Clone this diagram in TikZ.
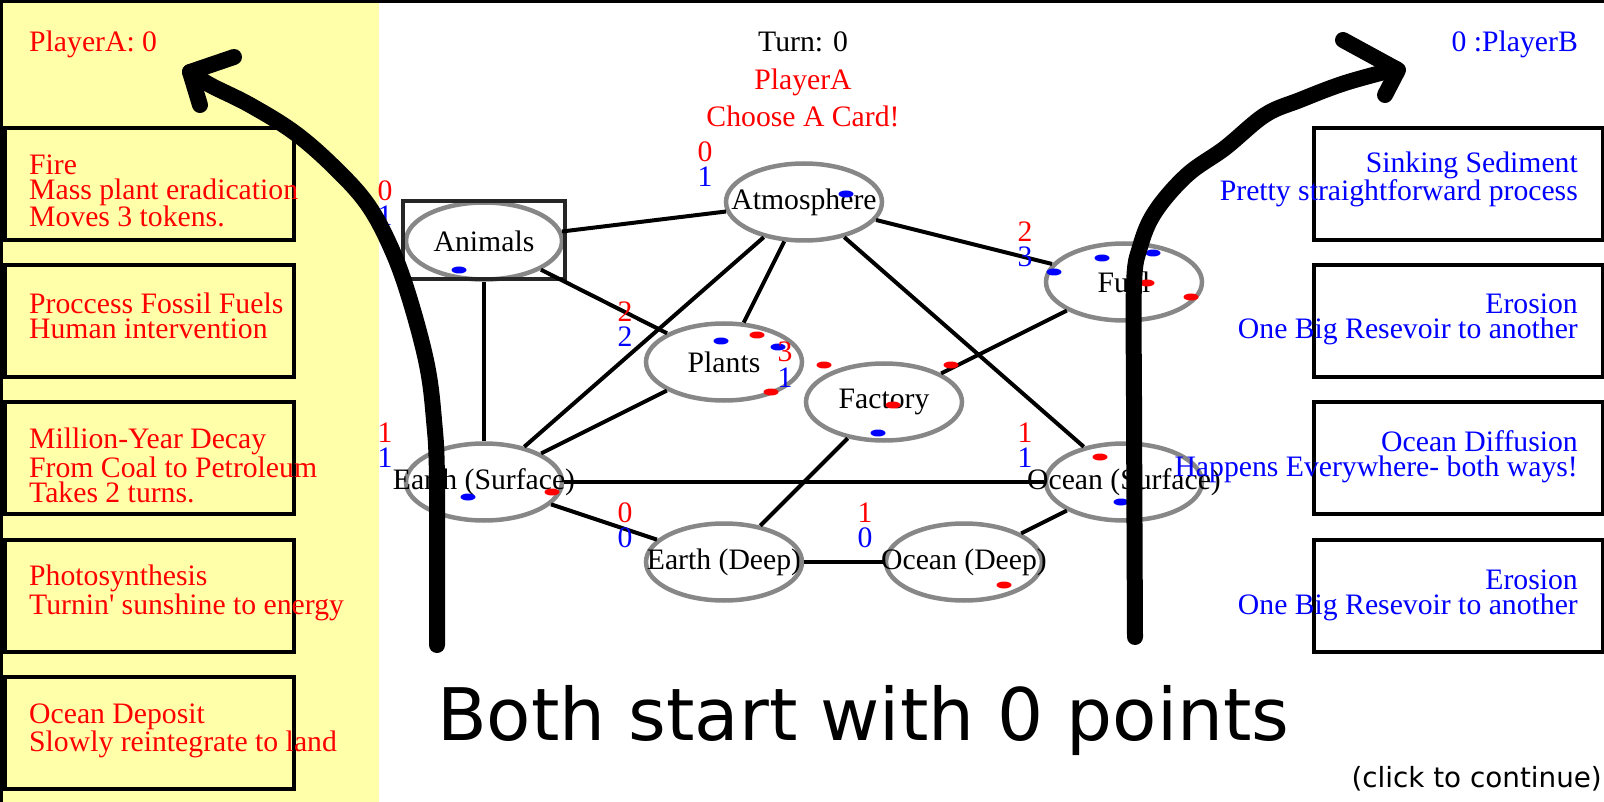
\documentclass[tikz,border=0pt]{standalone}
\usepackage{fontspec}
\setmainfont{Liberation Serif}
\newfontfamily\uifont{DejaVu Sans}
\usetikzlibrary{shapes.geometric, calc}

\definecolor{panel}{RGB}{255,255,170}
\definecolor{ringgray}{RGB}{135,135,135}
\definecolor{pred}{RGB}{255,0,0}
\definecolor{pblue}{RGB}{0,0,255}

\begin{document}
\begin{tikzpicture}[
    x=1pt, y=-1pt,
    txt/.style={font=\fontsize{29.7}{25}\selectfont, inner sep=0pt},
    card/.style={draw, line width=4pt, minimum width=289pt, minimum height=112pt, inner sep=0pt},
    res/.style={ellipse, draw=ringgray, line width=4.5pt, minimum width=156pt, minimum height=77pt, txt},
    link/.style={line width=4pt},
    scrawl/.style={line width=16pt, line cap=round, line join=round}
  ]
  \useasboundingbox (0,0) rectangle (1604,802);
  \fill[panel] (0,0) rectangle (379,802);
  \draw[line width=3pt] (1.5,802) -- (1.5,1.5) -- (1604,1.5);

  % card slots
  \node[card] (fire)    at (149.5,184) {};
  \node[card] (fossil)  at (149.5,321) {};
  \node[card] (decay)   at (149.5,458) {};
  \node[card] (photo)   at (149.5,596) {};
  \node[card] (deposit) at (149.5,733) {};
  \node[card] (sinking) at (1458,184) {};
  \node[card] (erosA)   at (1458,321) {};
  \node[card] (diffuse) at (1458,458) {};
  \node[card] (erosB)   at (1458,596) {};

  % reservoirs
  \node[res] (atmos)   at (804,202)  {\makebox[0pt]{Atmosphere}};
  \node[res] (animals) at (484,241)  {\makebox[0pt]{Animals}};
  \node[res] (plants)  at (724,362)  {\makebox[0pt]{Plants}};
  \node[res] (factory) at (884,402)  {\makebox[0pt]{Factory}};
  \node[res] (fuel)    at (1124,282) {\makebox[0pt]{Fuel}};
  \node[res] (earthS)  at (484,482)  {\makebox[0pt]{Earth (Surface)}};
  \node[res] (oceanS)  at (1124,482) {\makebox[0pt]{Ocean (Surface)}};
  \node[res] (earthD)  at (724,562)  {\makebox[0pt]{Earth (Deep)}};
  \node[res] (oceanD)  at (964,562)  {\makebox[0pt]{Ocean (Deep)}};
  \node[draw=black!85, line width=3.5pt, minimum width=162pt, minimum height=78pt] (pick) at (484,240) {};

  \draw[link] (animals) -- (atmos);
  \draw[link] (animals) -- (plants);
  \draw[link] (animals) -- (earthS);
  \draw[link] (atmos) -- (plants);
  \draw[link] (atmos) -- (earthS);
  \draw[link] (atmos) -- (fuel);
  \draw[link] (atmos) -- (oceanS);
  \draw[link] (plants) -- (earthS);
  \draw[link] (fuel) -- (factory);
  \draw[link] (factory) -- (earthD);
  \draw[link] (earthS) -- (oceanS);
  \draw[link] (earthS) -- (earthD);
  \draw[link] (earthD) -- (oceanD);
  \draw[link] (oceanD) -- (oceanS);

  % tokens
  \foreach \px/\py/\c in {459/270/pblue, 846/194/pblue, 721/341/pblue, 757/335/pred,
      778/347/pblue, 771/392/pred, 824/365/pred, 893/405/pred, 878/433/pblue, 951/365/pred,
      1054/272/pblue, 1102/258/pblue, 1153/253/pblue, 1147/283/pred, 1191/297/pred,
      1100/457/pred, 1121/502/pblue, 468/497/pblue, 552/492/pred, 1004/585/pred}
    \fill[\c] (\px,\py) ellipse [x radius=7.5, y radius=3.5];

  % counts per reservoir
  \foreach \n/\r/\b in {animals/0/1, atmos/0/1, plants/2/2, factory/3/1, fuel/2/3,
      earthS/1/1, oceanS/1/1, earthD/0/0, oceanD/1/0} {
    \node[txt, text=pred, anchor=base] (\n-r) at ($(\n.center)+(-99,-40)$) {\r};
    \node[txt, text=pblue, anchor=base] (\n-b) at ($(\n.center)+(-99,-15)$) {\b};
  }

  \node[txt, text=pred, anchor=base west] (scoreA) at (29,52) {PlayerA: 0};
  \node[txt, text=pblue, anchor=base east] (scoreB) at (1578,52) {0 :PlayerB};
  \node[txt, anchor=base] (turn) at (803,52) {Turn: 0};
  \node[txt, text=pred, anchor=base] (mover) at (803,90) {PlayerA};
  \node[txt, text=pred, anchor=base] (prompt) at (803,127) {Choose A Card!};

  % card texts (base = last line)
  \node[txt, text=pred, align=left, anchor=base west] (fireT) at (29,227) {Fire\\Mass plant eradication\\Moves 3 tokens.};
  \node[txt, text=pred, align=left, anchor=base west] (fossilT) at (29,339) {Proccess Fossil Fuels\\Human intervention};
  \node[txt, text=pred, align=left, anchor=base west] (decayT) at (29,502) {Million-Year Decay\\From Coal to Petroleum\\Takes 2 turns.};
  \node[txt, text=pred, align=left, anchor=base west] (photoT) at (29,614) {Photosynthesis\\Turnin\textquotesingle{} sunshine to energy};
  \node[txt, text=pred, align=left, anchor=base west] (depositT) at (29,751) {Ocean Deposit\\Slowly reintegrate to land};
  \node[txt, text=pblue, align=right, anchor=base east] (sinkingT) at (1578,201) {Sinking Sediment\\Pretty straightforward process};
  \node[txt, text=pblue, align=right, anchor=base east] (erosAT) at (1578,339) {Erosion\\One Big Resevoir to another};
  \node[txt, text=pblue, align=right, anchor=base east] (diffuseT) at (1578,476) {Ocean Diffusion\\Happens Everywhere- both ways!};
  \node[txt, text=pblue, align=right, anchor=base east] (erosBT) at (1578,614) {Erosion\\One Big Resevoir to another};

  \node[font=\uifont\fontsize{72.5}{80}\selectfont, inner sep=0pt, anchor=base west] (banner) at (437,740) {Both start with 0 points};
  \node[font=\uifont\fontsize{27.8}{30}\selectfont, inner sep=0pt, anchor=base east] (hint) at (1602,787) {(click to continue)};

  % hand-drawn arrows
  \draw[scrawl] plot[smooth, tension=0.6] coordinates {(437,645) (437,480) (434,420) (427,365) (410,300) (392,250) (368,205) (335,168) (295,133) (250,105) (210,85) (190,72)};
  \draw[scrawl] (234,57) -- (190,72) -- (200,105);
  \draw[scrawl] plot[smooth, tension=0.6] coordinates {(1135,637) (1134,400) (1134,285) (1140,247) (1155,212) (1187,175) (1225,148) (1265,115) (1300,100) (1345,83) (1396,69)};
  \draw[scrawl] (1343,40) -- (1398,70) -- (1385,95);
\end{tikzpicture}
\end{document}
